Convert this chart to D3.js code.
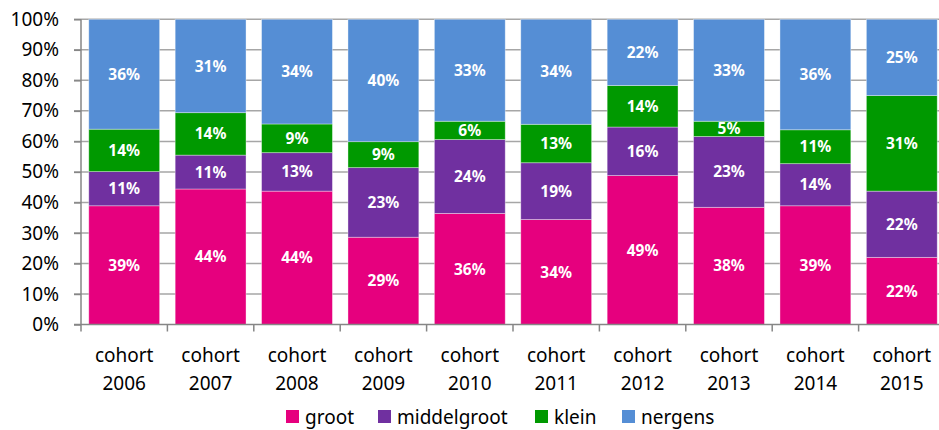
<!DOCTYPE html>
<html>
<head>
<meta charset="utf-8">
<script src="https://cdn.jsdelivr.net/npm/d3@7/dist/d3.min.js"></script>
<style>
  html, body { margin: 0; padding: 0; background: #ffffff; }
  #chart { width: 939px; height: 430px; overflow: hidden; }
</style>
</head>
<body>
<div id="chart"></div>
<script>
// Share per cohort (percent), stacked to 100%
var cohorts = ["2006", "2007", "2008", "2009", "2010", "2011", "2012", "2013", "2014", "2015"];
var groot       = [38.9, 44.4, 43.7, 28.6, 36.4, 34.4, 48.8, 38.4, 38.9, 22.0];
var middelgroot = [11.2, 11.1, 12.6, 22.8, 24.2, 18.6, 15.9, 23.2, 13.8, 21.7];
var klein       = [13.9, 13.9, 9.4, 8.5, 6.0, 12.6, 13.6, 5.0, 11.1, 31.3];
var nergens     = [36.0, 30.6, 34.3, 40.1, 33.4, 34.4, 21.7, 33.4, 36.2, 25.0];

var seriesNames = ["groot", "middelgroot", "klein", "nergens"];
var seriesColors = ["#e6007e", "#7030a0", "#009900", "#558ed5"];
var yTicks = [0, 10, 20, 30, 40, 50, 60, 70, 80, 90, 100];

(function() {

    var width = 939;
    var height = 430;
    var font = "'Noto Sans', 'DejaVu Sans', sans-serif";

    var rows = cohorts.map(function(c, i) {
        return {
            cohort: c,
            groot: groot[i],
            middelgroot: middelgroot[i],
            klein: klein[i],
            nergens: nergens[i]
        };
    });

    var stacked = d3.stack().keys(seriesNames)(rows);

    var svg = d3.select("#chart")
        .append("svg")
        .attr("width", width)
        .attr("height", height)
        .style("font-family", font);

    var x = d3.scaleBand()
        .domain(cohorts)
        .range([81, 945])
        .paddingInner(0.18)
        .paddingOuter(0.09);

    var y = d3.scaleLinear()
        .domain([0, 100])
        .range([324.5, 19.3]);

    var color = d3.scaleOrdinal()
        .domain(seriesNames)
        .range(seriesColors);

    // Gridlines
    svg.append("g")
        .selectAll("line")
        .data(yTicks.slice(1))
        .enter()
        .append("line")
        .attr("x1", 74)
        .attr("x2", width)
        .attr("y1", function(d) { return y(d); })
        .attr("y2", function(d) { return y(d); })
        .attr("stroke", "#a6a6a6")
        .attr("stroke-width", 1.5);

    // Bars
    var layer = svg.append("g")
        .selectAll("g")
        .data(stacked)
        .enter()
        .append("g")
        .attr("fill", function(d) { return color(d.key); });

    layer.selectAll("rect")
        .data(function(d) { return d; })
        .enter()
        .append("rect")
        .attr("x", function(d) { return x(d.data.cohort); })
        .attr("width", x.bandwidth())
        .attr("y", function(d) { return y(d[1]); })
        .attr("height", function(d) { return y(d[0]) - y(d[1]); })
        .attr("stroke", "#ffffff")
        .attr("stroke-opacity", 0.45)
        .attr("stroke-width", 0.8);

    // Value labels
    layer.selectAll("text")
        .data(function(d) { return d; })
        .enter()
        .append("text")
        .attr("x", function(d) { return x(d.data.cohort) + x.bandwidth() / 2; })
        .attr("y", function(d) { return (y(d[0]) + y(d[1])) / 2; })
        .attr("dy", "0.36em")
        .attr("text-anchor", "middle")
        .attr("fill", "#ffffff")
        .attr("font-size", "15.5px")
        .attr("font-weight", "bold")
        .text(function(d) { return Math.round(d[1] - d[0]) + "%"; });

    // Y axis
    var yAxis = svg.append("g")
        .attr("transform", "translate(81,0)")
        .call(d3.axisLeft(y)
            .tickValues(yTicks)
            .tickSize(7)
            .tickPadding(15)
            .tickFormat(function(d) { return d + "%"; }));

    yAxis.select(".domain")
        .attr("stroke", "#868686")
        .attr("stroke-width", 1.5)
        .attr("d", "M0," + y(100) + "V" + y(0));

    yAxis.selectAll(".tick line")
        .attr("stroke", "#868686")
        .attr("stroke-width", 1.5);

    yAxis.selectAll(".tick text")
        .attr("fill", "#000000")
        .attr("font-size", "19px")
        .attr("font-family", font);

    // X axis
    var step = x.step();
    var boundaries = d3.range(cohorts.length + 1).map(function(i) {
        return x.range()[0] + i * step;
    });

    svg.append("line")
        .attr("x1", 74)
        .attr("x2", width)
        .attr("y1", y(0))
        .attr("y2", y(0))
        .attr("stroke", "#868686")
        .attr("stroke-width", 1.5);

    svg.append("g")
        .selectAll("line")
        .data(boundaries)
        .enter()
        .append("line")
        .attr("x1", function(d) { return d; })
        .attr("x2", function(d) { return d; })
        .attr("y1", y(0))
        .attr("y2", y(0) + 7)
        .attr("stroke", "#868686")
        .attr("stroke-width", 1.5);

    var xLabels = svg.append("g")
        .selectAll("text")
        .data(cohorts)
        .enter()
        .append("text")
        .attr("text-anchor", "middle")
        .attr("fill", "#000000")
        .attr("font-size", "19px");

    xLabels.append("tspan")
        .attr("x", function(d) { return x(d) + x.bandwidth() / 2; })
        .attr("y", 361.5)
        .text("cohort");

    xLabels.append("tspan")
        .attr("x", function(d) { return x(d) + x.bandwidth() / 2; })
        .attr("y", 390)
        .text(function(d) { return d; });

    // Legend
    var legendX = [286, 378, 535, 622];

    var legend = svg.append("g")
        .selectAll("g")
        .data(seriesNames)
        .enter()
        .append("g")
        .attr("transform", function(d, i) {
            return "translate(" + legendX[i] + ",410)";
        });

    legend.append("rect")
        .attr("width", 13)
        .attr("height", 13)
        .attr("fill", function(d) { return color(d); });

    legend.append("text")
        .attr("x", 19)
        .attr("y", 14)
        .attr("fill", "#000000")
        .attr("font-size", "19px")
        .text(function(d) { return d; });

})();
</script>
</body>
</html>
